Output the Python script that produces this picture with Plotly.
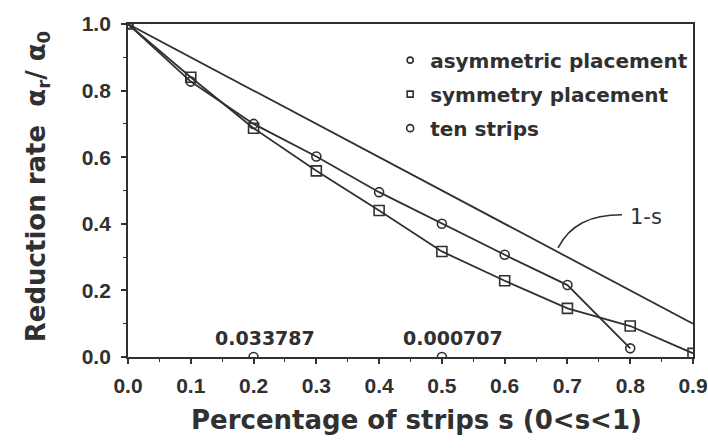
import plotly.graph_objects as go

s_asym = [0.0, 0.1, 0.2, 0.3, 0.4, 0.5, 0.6, 0.7, 0.8]
asym = [1.0, 0.827, 0.70, 0.602, 0.495, 0.40, 0.307, 0.216, 0.026]
s_sym = [0.0, 0.1, 0.2, 0.3, 0.4, 0.5, 0.6, 0.7, 0.8, 0.9]
sym = [1.0, 0.84, 0.687, 0.559, 0.44, 0.317, 0.229, 0.146, 0.093, 0.011]
s_ten = [0.2, 0.5]
ten = [0.033787, 0.000707]
ten_labels = ["0.033787", "0.000707"]
s_ref = [0.0, 0.9]
ref = [1.0, 0.1]
x_ticks = [0, 0.1, 0.2, 0.3, 0.4, 0.5, 0.6, 0.7, 0.8, 0.9]
y_ticks = [0, 0.2, 0.4, 0.6, 0.8, 1.0]

C = "#303030"
FONT = "DejaVu Sans, Liberation Sans, Arial, sans-serif"
TICKFONT = "Liberation Sans, Arial, sans-serif"

fig = go.Figure()
fig.add_trace(go.Scatter(x=s_ref, y=ref, mode="lines", line=dict(color=C, width=1.8), showlegend=False))
fig.add_trace(go.Scatter(x=s_asym, y=asym, mode="lines+markers", line=dict(color=C, width=1.8),
                         marker=dict(symbol="circle-open", size=9, color=C, line=dict(width=1.6)), showlegend=False))
fig.add_trace(go.Scatter(x=s_sym, y=sym, mode="lines+markers", line=dict(color=C, width=1.8),
                         marker=dict(symbol="square-open", size=10, color=C, line=dict(width=1.6)), showlegend=False))
fig.add_trace(go.Scatter(x=s_ten, y=[0.0 for _ in ten], mode="markers",
                         marker=dict(symbol="circle-open", size=9, color=C, line=dict(width=1.6)), showlegend=False))
# legend entries
for nm, sym_name, sz in [("asymmetric placement", "circle-open", 6),
                         ("symmetry placement", "square-open", 6),
                         ("ten strips", "circle-open", 7)]:
    fig.add_trace(go.Scatter(x=[None], y=[None], mode="markers", name=nm, legendgroup=nm,
                             marker=dict(symbol=sym_name, size=sz, color=C, line=dict(width=1.6))))

for xv, lab in zip(s_ten, ten_labels):
    fig.add_annotation(x=xv, y=0.0, text=lab, showarrow=False, yshift=19, xshift=11,
                       font=dict(family=FONT, size=19, color=C, weight="bold"))

fig.add_annotation(x=0.796, y=0.421, text="1-s", showarrow=False, xanchor="left",
                   font=dict(family=FONT, size=21, color=C))
fig.add_shape(type="path", path="M 0.685,0.328 C 0.704,0.397 0.736,0.427 0.787,0.427",
              line=dict(color=C, width=1.6))

# axis titles as annotations (positioned like the reference)
fig.add_annotation(xref="paper", yref="paper", x=0.511, y=-0.189, text="Percentage of strips s (0<s<1)",
                   showarrow=False, xanchor="center", yanchor="middle",
                   font=dict(family=FONT, size=26, color=C, weight="bold"))
fig.add_annotation(xref="paper", yref="paper", x=-0.161, y=0.51,
                   text="Reduction rate  α<sub>r</sub>/ α<sub>0</sub>", textangle=-90,
                   showarrow=False, xanchor="center", yanchor="middle",
                   font=dict(family=FONT, size=26, color=C, weight="bold"))

axis_common = dict(showline=True, linecolor=C, linewidth=1.8, mirror=True, showgrid=False, zeroline=False,
                   ticks="outside", ticklen=5, tickwidth=1.5, tickcolor=C, automargin=False,
                   ticklabeloverflow="allow",
                   tickfont=dict(family=TICKFONT, size=21, color=C, weight="bold"))
fig.update_xaxes(range=[0, 0.9], tickvals=x_ticks, tickformat=".1f", ticklabelstandoff=4,
                 minor=dict(dtick=0.05, ticks="outside", ticklen=3, tickcolor=C, tickwidth=1.3),
                 **axis_common)
fig.update_yaxes(range=[0, 1.0], tickvals=y_ticks, tickformat=".1f", ticklabelstandoff=6,
                 minor=dict(dtick=0.1, ticks="outside", ticklen=3, tickcolor=C, tickwidth=1.3),
                 **axis_common)

fig.update_layout(width=708, height=448, margin=dict(l=128, r=15, t=24, b=91, autoexpand=False),
                  plot_bgcolor="white", paper_bgcolor="white",
                  legend=dict(x=0.464, y=0.95, xanchor="left", yanchor="top", bgcolor="rgba(0,0,0,0)",
                              itemwidth=30, tracegroupgap=5,
                              font=dict(family=FONT, size=20, color=C, weight="bold")))
fig.write_html("out.html")
